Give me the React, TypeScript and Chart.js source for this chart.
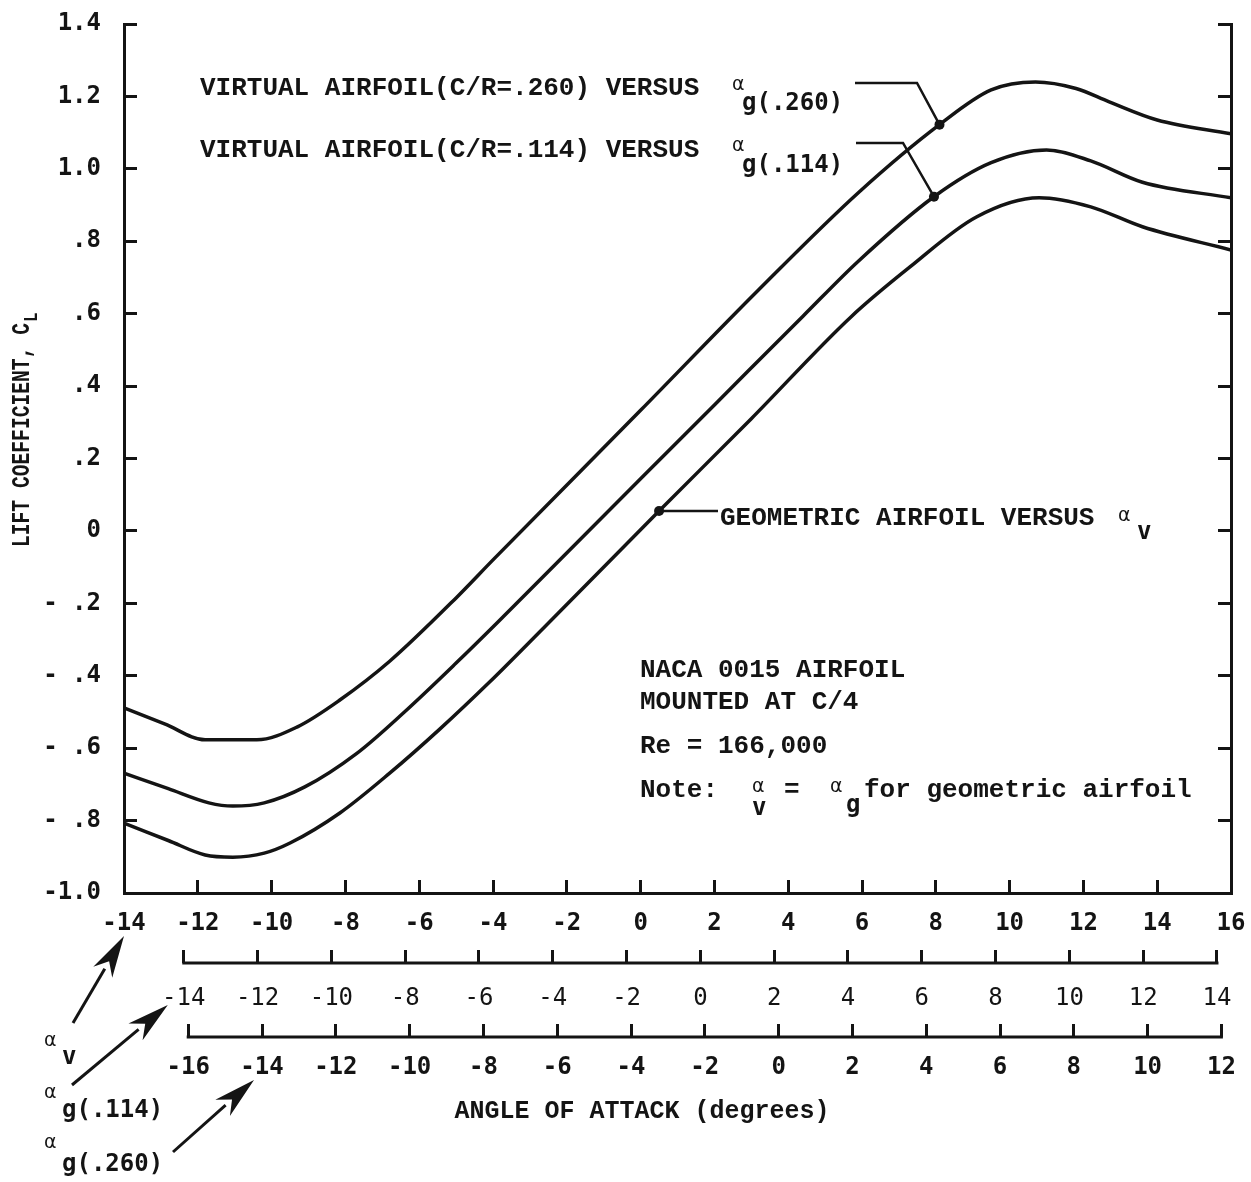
import React, { useEffect, useRef } from "react";
import { Chart, registerables } from "chart.js";

Chart.register(...registerables);

// ---------------- data ----------------
// Lift coefficient curves, plotted against the alpha_v scale (top row of the x axes)
const alphaC260 = [-14, -12.9, -11.8, -10.4, -9.3, -8.15, -6.8, -5.0, -4.0, 0, 3.2, 5.9, 8.1, 9.5, 10.7, 11.8, 12.7, 14.0, 16];
const clC260 = [-0.489, -0.533, -0.577, -0.577, -0.541, -0.467, -0.36, -0.185, -0.08, 0.333, 0.666, 0.934, 1.122, 1.218, 1.24, 1.222, 1.185, 1.135, 1.097];

const alphaC114 = [-14, -12.8, -11.7, -11.05, -10.2, -9.1, -7.7, -6.4, -5.0, -3.9, -2.65, 0, 2, 4.4, 5.9, 7.95, 9.5, 11.0, 12.2, 13.6, 16];
const clC114 = [-0.669, -0.712, -0.751, -0.76, -0.751, -0.707, -0.615, -0.5, -0.365, -0.255, -0.127, 0.144, 0.348, 0.593, 0.745, 0.923, 1.017, 1.052, 1.022, 0.963, 0.92];

const alphaGeo = [-14, -12.8, -11.8, -11.05, -10.2, -9.5, -8.15, -6.8, -5.45, -4.1, -2.65, 0.5, 3, 5.7, 7.3, 9.1, 10.8, 12.2, 13.6, 16];
const clGeo = [-0.807, -0.855, -0.895, -0.901, -0.89, -0.862, -0.779, -0.669, -0.548, -0.418, -0.27, 0.055, 0.31, 0.591, 0.729, 0.867, 0.92, 0.895, 0.84, 0.776];

// index of the labelled point on each curve
const dotIndexC260 = 12;
const dotIndexC114 = 15;
const dotIndexGeo = 11;

// axes
const alphaVMin = -14;
const alphaVMax = 16;
const alphaStep = 2;
const offsetG114 = 1.62; // alpha_v - alpha_g(.114)
const offsetG260 = 3.74; // alpha_v - alpha_g(.260)
const g114Ticks = [-14, -12, -10, -8, -6, -4, -2, 0, 2, 4, 6, 8, 10, 12, 14];
const g260Ticks = [-16, -14, -12, -10, -8, -6, -4, -2, 0, 2, 4, 6, 8, 10, 12];
const clMin = -1.0;
const clMax = 1.4;
const clStep = 0.2;
const clTickLabels = ["-1.0", "- .8", "- .6", "- .4", "- .2", "0", ".2", ".4", ".6", ".8", "1.0", "1.2", "1.4"];

// ---------------- styling ----------------
const INK = "#141414";
const SERIF_MONO = "'Liberation Mono', 'Courier New', monospace";
const SANS_MONO = "'DejaVu Sans Mono', monospace";
const GREEK = "'DejaVu Sans', sans-serif";

const tickFont = { family: SANS_MONO, size: 24, weight: "bold" as const, lineHeight: 1 };
const rowFont = { family: SANS_MONO, size: 24, weight: "normal" as const, lineHeight: 1 };

function toPoints(xs: number[], ys: number[]) {
  return xs.map((x, i) => ({ x, y: ys[i] }));
}

function txt(ctx: CanvasRenderingContext2D, s: string, x: number, y: number, font: string, align: CanvasTextAlign = "left") {
  ctx.font = font;
  ctx.textAlign = align;
  ctx.textBaseline = "middle";
  ctx.fillStyle = INK;
  ctx.fillText(s, x, y);
}

function arrow(ctx: CanvasRenderingContext2D, x0: number, y0: number, x1: number, y1: number) {
  const a = Math.atan2(y1 - y0, x1 - x0);
  const L = 42;
  const W = 11;
  const bx = x1 - L * Math.cos(a);
  const by = y1 - L * Math.sin(a);
  ctx.beginPath();
  ctx.moveTo(x0, y0);
  ctx.lineTo(bx + 4 * Math.cos(a), by + 4 * Math.sin(a));
  ctx.lineWidth = 3;
  ctx.strokeStyle = INK;
  ctx.stroke();
  ctx.beginPath();
  ctx.moveTo(x1, y1);
  ctx.lineTo(bx - W * Math.sin(a), by + W * Math.cos(a));
  ctx.lineTo(bx + 0.3 * L * Math.cos(a), by + 0.3 * L * Math.sin(a));
  ctx.lineTo(bx + W * Math.sin(a), by - W * Math.cos(a));
  ctx.closePath();
  ctx.fillStyle = INK;
  ctx.fill();
}

const annotationPlugin = {
  id: "annotations",
  afterDraw(chart: any) {
    const ctx: CanvasRenderingContext2D = chart.ctx;
    const x = chart.scales.x;
    const x2 = chart.scales.x2;
    const x3 = chart.scales.x3;
    ctx.save();
    ctx.strokeStyle = INK;
    ctx.lineCap = "square";

    // bracket lines of the alpha_g scales
    ctx.lineWidth = 3;
    ctx.beginPath();
    ctx.moveTo(x2.getPixelForValue(g114Ticks[0]), x2.top);
    ctx.lineTo(x2.getPixelForValue(g114Ticks[g114Ticks.length - 1]), x2.top);
    ctx.moveTo(x3.getPixelForValue(g260Ticks[0]), x3.top);
    ctx.lineTo(x3.getPixelForValue(g260Ticks[g260Ticks.length - 1]), x3.top);
    ctx.stroke();

    // labelled points
    const pTop = chart.getDatasetMeta(0).data[dotIndexC260];
    const pMid = chart.getDatasetMeta(1).data[dotIndexC114];
    const pGeo = chart.getDatasetMeta(2).data[dotIndexGeo];

    ctx.lineWidth = 2.5;
    ctx.lineCap = "butt";
    ctx.beginPath();
    ctx.moveTo(855, 83);
    ctx.lineTo(917, 83);
    ctx.lineTo(pTop.x, pTop.y);
    ctx.moveTo(856, 143);
    ctx.lineTo(903, 143);
    ctx.lineTo(pMid.x, pMid.y);
    ctx.moveTo(pGeo.x, pGeo.y);
    ctx.lineTo(718, pGeo.y);
    ctx.stroke();
    ctx.fillStyle = INK;
    for (const p of [pTop, pMid, pGeo]) {
      ctx.beginPath();
      ctx.arc(p.x, p.y, 5, 0, Math.PI * 2);
      ctx.fill();
    }

    const ann = `bold 26px ${SERIF_MONO}`;
    const sub = `bold 24px ${SANS_MONO}`;
    const alpha = `19px ${GREEK}`;

    txt(ctx, "VIRTUAL AIRFOIL(C/R=.260) VERSUS", 200, 88, ann);
    txt(ctx, "\u03b1", 732, 85, alpha);
    txt(ctx, "g(.260)", 742, 104, sub);
    txt(ctx, "VIRTUAL AIRFOIL(C/R=.114) VERSUS", 200, 150, ann);
    txt(ctx, "\u03b1", 732, 146, alpha);
    txt(ctx, "g(.114)", 742, 166, sub);

    txt(ctx, "GEOMETRIC AIRFOIL VERSUS", 720, 518, ann);
    txt(ctx, "\u03b1", 1118, 516, alpha);
    txt(ctx, "v", 1137, 533, sub);

    txt(ctx, "NACA 0015 AIRFOIL", 640, 670, ann);
    txt(ctx, "MOUNTED AT C/4", 640, 702, ann);
    txt(ctx, "Re = 166,000", 640, 746, ann);
    txt(ctx, "Note:", 640, 790, ann);
    txt(ctx, "\u03b1", 752, 787, alpha);
    txt(ctx, "v", 752, 809, sub);
    txt(ctx, "=", 784, 790, ann);
    txt(ctx, "\u03b1", 830, 787, alpha);
    txt(ctx, "g", 846, 806, sub);
    txt(ctx, "for geometric airfoil", 864, 790, ann);

    // scale keys, bottom left
    txt(ctx, "\u03b1", 44, 1041, alpha);
    txt(ctx, "v", 62, 1058, sub);
    txt(ctx, "\u03b1", 44, 1093, alpha);
    txt(ctx, "g(.114)", 62, 1111, sub);
    txt(ctx, "\u03b1", 44, 1143, alpha);
    txt(ctx, "g(.260)", 62, 1165, sub);

    arrow(ctx, 73, 1023, x.getPixelForValue(alphaVMin), 936);
    arrow(ctx, 72, 1085, x2.getPixelForValue(g114Ticks[0]) - 16, 1005);
    arrow(ctx, 173, 1152, x3.getPixelForValue(g260Ticks[1]) - 8, 1080);

    // axis titles
    txt(ctx, "ANGLE OF ATTACK (degrees)", 642, 1112, `bold 25px ${SERIF_MONO}`, "center");

    ctx.save();
    ctx.translate(23, 547);
    ctx.rotate(-Math.PI / 2);
    const yTitleFont = `bold 22px ${SERIF_MONO}`;
    ctx.font = yTitleFont;
    const w = ctx.measureText("LIFT COEFFICIENT, C").width;
    const sx = 224 / w;
    ctx.scale(sx, 1.15);
    txt(ctx, "LIFT COEFFICIENT, C", 0, 0, yTitleFont);
    txt(ctx, "L", w + 1, 8, `bold 18px ${SERIF_MONO}`);
    ctx.restore();

    ctx.restore();
  },
};

const tickGrid = {
  display: true,
  drawOnChartArea: false,
  drawTicks: true,
  tickLength: -13,
  tickWidth: 3,
  tickColor: INK,
};

// keep the plot area fixed: Chart.js would otherwise reserve room for label overhang + tick padding
function fixBox(size: { width?: number; height?: number }) {
  return (s: any) => {
    if (size.width !== undefined) s.width = size.width;
    if (size.height !== undefined) s.height = size.height;
    s.paddingLeft = 0;
    s.paddingRight = 0;
    s.paddingTop = 0;
    s.paddingBottom = 0;
  };
}

export default function App() {
  const ref = useRef<HTMLCanvasElement>(null);

  useEffect(() => {
    if (!ref.current) return;
    const line = {
      borderColor: INK,
      borderWidth: 3.5,
      pointRadius: 0,
      fill: false,
      cubicInterpolationMode: "monotone" as const,
      xAxisID: "x",
      yAxisID: "y",
    };
    const chart = new Chart(ref.current, {
      type: "line",
      data: {
        datasets: [
          { ...line, label: "Virtual airfoil (C/R=.260) vs alpha_g(.260)", data: toPoints(alphaC260, clC260) },
          { ...line, label: "Virtual airfoil (C/R=.114) vs alpha_g(.114)", data: toPoints(alphaC114, clC114) },
          { ...line, label: "Geometric airfoil vs alpha_v", data: toPoints(alphaGeo, clGeo) },
        ],
      },
      options: {
        animation: false,
        responsive: false,
        devicePixelRatio: 1,
        layout: { padding: { top: 24, left: 0, right: 0, bottom: 0 } },
        plugins: { legend: { display: false }, tooltip: { enabled: false } },
        scales: {
          x: {
            type: "linear",
            position: "bottom",
            weight: 0,
            min: alphaVMin,
            max: alphaVMax,
            ticks: {
              stepSize: alphaStep,
              font: tickFont,
              color: INK,
              padding: 32,
              maxRotation: 0,
              autoSkip: false,
              callback: (v: any) => String(v),
            },
            grid: tickGrid,
            border: { display: true, color: INK, width: 3 },
            afterFit: fixBox({ height: 70 }),
          },
          x2: {
            type: "linear",
            position: "bottom",
            weight: 1,
            min: alphaVMin - offsetG114,
            max: alphaVMax - offsetG114,
            afterBuildTicks: (s: any) => {
              s.ticks = g114Ticks.map((v) => ({ value: v }));
            },
            ticks: {
              font: rowFont,
              color: INK,
              padding: 37,
              maxRotation: 0,
              autoSkip: false,
              callback: (v: any) => String(Math.round(v)),
            },
            grid: tickGrid,
            border: { display: false },
            afterFit: fixBox({ height: 74 }),
          },
          x3: {
            type: "linear",
            position: "bottom",
            weight: 2,
            min: alphaVMin - offsetG260,
            max: alphaVMax - offsetG260,
            afterBuildTicks: (s: any) => {
              s.ticks = g260Ticks.map((v) => ({ value: v }));
            },
            ticks: {
              font: tickFont,
              color: INK,
              padding: 32,
              maxRotation: 0,
              autoSkip: false,
              callback: (v: any) => String(Math.round(v)),
            },
            grid: tickGrid,
            border: { display: false },
            afterFit: fixBox({ height: 145 }),
          },
          y: {
            type: "linear",
            position: "left",
            min: clMin,
            max: clMax,
            ticks: {
              stepSize: clStep,
              font: tickFont,
              color: INK,
              padding: 36,
              autoSkip: false,
              callback: (_v: any, i: number) => clTickLabels[i],
            },
            grid: tickGrid,
            border: { display: true, color: INK, width: 3 },
            afterFit: fixBox({ width: 124 }),
          },
          y2: {
            type: "linear",
            position: "right",
            min: clMin,
            max: clMax,
            ticks: { stepSize: clStep, display: false },
            grid: tickGrid,
            border: { display: true, color: INK, width: 3 },
            afterFit: fixBox({ width: 20 }),
          },
        },
      },
      plugins: [annotationPlugin],
    } as any);
    return () => chart.destroy();
  }, []);

  return (
    <div style={{ position: "absolute", left: 0, top: 0, width: 1251, height: 1182, background: "#fff" }}>
      <canvas ref={ref} width={1251} height={1182} style={{ display: "block", width: 1251, height: 1182 }} />
    </div>
  );
}
